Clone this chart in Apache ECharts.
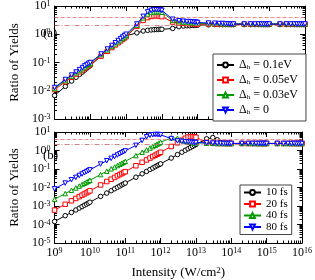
<!DOCTYPE html>
<html><head><meta charset="utf-8">
<script src="https://cdn.jsdelivr.net/npm/echarts@6/dist/echarts.min.js"></script>
<style>html,body{margin:0;padding:0;background:#fff}#c{width:315px;height:280px}</style>
</head><body><div id="c"></div><script>
// ---------- data ----------
const intensity = [
1e9,2e9,3e9,4e9,5e9,6e9,7e9,8e9,9e9,
1e10,2e10,3e10,4e10,5e10,6e10,7e10,8e10,9e10,
1e11,2e11,3e11,4e11,5e11,6e11,7e11,8e11,9e11,
1e12,2e12,3e12,4e12,5e12,6e12,7e12,8e12,9e12,
1e13,2e13,3e13,4e13,5e13,6e13,7e13,8e13,9e13,
1e14,2e14,3e14,4e14,5e14,6e14,7e14,8e14,9e14,
1e15,2e15,3e15,4e15,5e15,6e15,7e15,8e15,9e15,
1e16];
const xTicks = [1e9,1e10,1e11,1e12,1e13,1e14,1e15,1e16];
const yTicksA = [1e-3,1e-2,1e-1,1,10];
const yTicksB = [1e-5,1e-4,1e-3,1e-2,1e-1,1,10];
const refLines = [4.1, 2.1];

const deltaLabels = ['0.1eV','0.05eV','0.03eV','0'];
const pulseLabels = ['10 fs','20 fs','40 fs','80 fs'];

const yA_01 = [
0.0068,0.0143,0.022,0.030,0.038,0.046,0.054,0.063,0.071,
0.080,0.168,0.26,0.35,0.45,0.54,0.63,0.72,0.80,
0.88,1.12,1.3,1.38,1.42,1.45,1.47,1.48,1.5,
1.5,1.6,1.85,1.95,2.0,2.0,2.05,2.05,2.1,
2.1,2.15,2.2,2.2,2.2,2.2,2.2,2.2,2.2,
2.2,2.2,2.2,2.2,2.2,2.2,2.2,2.2,2.2,
2.2,2.2,2.2,2.2,2.2,2.2,2.2,2.2,2.2,
2.2];
const yA_005 = [
0.011,0.021,0.030,0.039,0.047,0.055,0.063,0.071,0.078,
0.085,0.17,0.25,0.34,0.42,0.50,0.58,0.66,0.74,
0.82,1.9,3.1,3.9,4.3,4.5,4.5,4.5,4.4,
4.2,2.7,2.5,2.45,2.4,2.4,2.4,2.35,2.35,
2.3,2.3,2.3,2.25,2.25,2.25,2.25,2.25,2.25,
2.25,2.25,2.25,2.25,2.25,2.25,2.25,2.25,2.25,
2.25,2.25,2.25,2.25,2.25,2.25,2.25,2.25,2.25,
2.25];
const yA_003 = [
0.012,0.023,0.033,0.043,0.052,0.061,0.070,0.079,0.087,
0.095,0.19,0.28,0.37,0.46,0.55,0.64,0.73,0.82,
0.91,2.1,3.8,5.2,5.9,6.2,6.3,6.3,6.2,
6.0,3.1,2.8,2.7,2.6,2.6,2.55,2.5,2.5,
2.45,2.4,2.4,2.4,2.35,2.35,2.35,2.35,2.35,
2.35,2.35,2.35,2.35,2.35,2.35,2.35,2.35,2.35,
2.35,2.35,2.35,2.35,2.35,2.35,2.35,2.35,2.35,
2.35];
const yA_0 = [
0.013,0.025,0.036,0.046,0.056,0.066,0.076,0.085,0.094,
0.10,0.20,0.30,0.40,0.50,0.60,0.70,0.80,0.90,
1.0,2.3,4.3,6.2,7.0,7.3,7.4,7.4,7.3,
7.0,3.4,3.0,2.9,2.8,2.8,2.75,2.7,2.7,
2.6,2.5,2.45,2.4,2.4,2.35,2.35,2.3,2.3,
2.3,2.3,2.3,2.3,2.3,2.3,2.3,2.3,2.3,
2.3,2.3,2.3,2.3,2.3,2.3,2.3,2.3,2.3,
2.3];

const yB_10 = [
1.45e-4,3.0e-4,4.5e-4,6.1e-4,7.7e-4,9.3e-4,1.1e-3,1.26e-3,1.42e-3,
1.6e-3,3.3e-3,5.0e-3,6.7e-3,8.5e-3,0.0103,0.012,0.0139,0.0157,
0.0175,0.036,0.055,0.074,0.094,0.113,0.133,0.152,0.172,
0.19,0.39,0.6,0.81,1.03,1.24,1.46,1.67,1.89,
2.1,4.3,5.0,3.8,2.7,2.5,2.45,2.4,2.4,
2.4,2.4,2.4,2.4,2.4,2.4,2.4,2.4,2.4,
2.4,2.4,2.4,2.4,2.4,2.4,2.4,2.4,2.4,
2.4];
const yB_20 = [
6.0e-4,1.24e-3,1.9e-3,2.55e-3,3.2e-3,3.85e-3,4.5e-3,5.2e-3,5.9e-3,
6.6e-3,0.0137,0.021,0.028,0.035,0.043,0.050,0.057,0.065,
0.072,0.15,0.23,0.31,0.39,0.47,0.55,0.63,0.71,
0.8,1.65,2.6,3.6,4.6,5.3,5.6,5.6,5.5,
5.2,2.6,2.45,2.4,2.4,2.4,2.4,2.4,2.4,
2.4,2.4,2.4,2.4,2.4,2.4,2.4,2.4,2.4,
2.4,2.4,2.4,2.4,2.4,2.4,2.4,2.4,2.4,
2.4];
const yB_40 = [
2.3e-3,4.7e-3,7.1e-3,9.5e-3,0.012,0.0145,0.017,0.0195,0.022,
0.0245,0.050,0.076,0.102,0.128,0.154,0.18,0.206,0.232,
0.26,0.53,0.8,1.08,1.36,1.64,1.92,2.2,2.5,
2.8,4.8,4.6,3.6,3.1,2.9,2.8,2.7,2.65,
2.6,2.5,2.45,2.4,2.4,2.4,2.4,2.4,2.4,
2.4,2.4,2.4,2.4,2.4,2.4,2.4,2.4,2.4,
2.4,2.4,2.4,2.4,2.4,2.4,2.4,2.4,2.4,
2.4];
const yB_80 = [
8.5e-3,0.0174,0.0263,0.0353,0.0444,0.0535,0.0626,0.0718,0.081,
0.09,0.185,0.28,0.375,0.47,0.57,0.66,0.76,0.85,
0.95,1.9,3.5,5.5,6.6,7.1,7.3,7.3,7.2,
7.0,4.4,3.3,3.1,3.0,2.9,2.85,2.8,2.75,
2.7,2.6,2.5,2.45,2.45,2.4,2.4,2.4,2.4,
2.4,2.4,2.4,2.4,2.4,2.4,2.4,2.4,2.4,
2.4,2.4,2.4,2.4,2.4,2.4,2.4,2.4,2.4,
2.4];

// ---------- chart ----------
const F = 'Liberation Serif';
const colors = ['#000000','#ff0000','#009a00','#0000ff'];
const symbols = ['circle','rect','triangle','triangle'];
const rotations = [0,0,0,180];

function minorsOf(majors){
  const out = [];
  for (let i = 0; i < majors.length - 1; i++) for (let k = 2; k <= 9; k++) out.push(majors[i] * k);
  return out;
}
const labelRich = {
  b:{fontFamily:F,fontSize:12,color:'#000'},
  e:{fontFamily:F,fontSize:8,color:'#000',verticalAlign:'top'}
};
function powLabel(v){ const e = Math.round(Math.log10(v)); return '{b|10}{e|' + e + '}'; }

function axis(gi, pos, min, max, ticks, len, showLine, labelVals, extra){
  const a = {type:'log', logBase:10, gridIndex:gi, position:pos, min:min, max:max,
    splitLine:{show:false}, minorTick:{show:false}, minorSplitLine:{show:false},
    axisLine:{show:showLine, onZero:false, lineStyle:{color:'#000', width:1}},
    axisTick:{show:true, inside:true, length:len, customValues:ticks, lineStyle:{color:'#000', width:1}},
    axisLabel: labelVals ? {show:true, customValues:labelVals, formatter:powLabel, rich:labelRich, margin:4} : {show:false},
    axisPointer:{show:false}, silent:true};
  return Object.assign(a, extra || {});
}

const grids = [
  {left:33, right:10, top:5, height:114},
  {left:33, right:10, top:132, height:112}
];
const xAxes = [], yAxes = [];
const xMinor = minorsOf(xTicks);
const yRanges = [[1e-3,10,yTicksA],[1e-5,10,yTicksB]];
const yName = {name:'Ratio of Yields', nameLocation:'middle', nameGap:24, nameRotate:90,
  nameTextStyle:{fontFamily:F,fontSize:13,color:'#000'}};
const xName = {name:'{a|Intensity (W/cm}{s|2}{a|)}', nameLocation:'middle', nameGap:23,
  nameTextStyle:{fontFamily:F,fontSize:13,color:'#000',
    rich:{a:{fontFamily:F,fontSize:13,color:'#000'},s:{fontFamily:F,fontSize:9,color:'#000',verticalAlign:'top'}}}};
for (let g = 0; g < 2; g++) {
  const [ymin, ymax, yt] = yRanges[g];
  const yMinor = minorsOf(yt);
  xAxes.push(axis(g,'bottom',1e9,1e16,xTicks,5,true,g===1?xTicks:null, g===1?xName:null));
  xAxes.push(axis(g,'bottom',1e9,1e16,xMinor,2.5,false,null));
  xAxes.push(axis(g,'top',1e9,1e16,xTicks,5,true,null));
  xAxes.push(axis(g,'top',1e9,1e16,xMinor,2.5,false,null));
  yAxes.push(axis(g,'left',ymin,ymax,yt,5,true,yt,yName));
  yAxes.push(axis(g,'left',ymin,ymax,yMinor,2.5,false,null));
  yAxes.push(axis(g,'right',ymin,ymax,yt,5,true,null));
  yAxes.push(axis(g,'right',ymin,ymax,yMinor,2.5,false,null));
}

const panelData = [[yA_01,yA_005,yA_003,yA_0],[yB_10,yB_20,yB_40,yB_80]];
const panelNames = [deltaLabels.map(d => 'Δh = ' + d), pulseLabels];
const series = [];
for (let g = 0; g < 2; g++) {
  for (let s = 0; s < 4; s++) {
    const ys = panelData[g][s];
    const ser = {
      type:'line', name:panelNames[g][s], xAxisIndex:g*4, yAxisIndex:g*4,
      data: intensity.map((x,i) => [x, ys[i]]),
      symbol:symbols[s], symbolRotate:rotations[s], symbolSize:4.5, showSymbol:true,
      lineStyle:{color:colors[s], width:1},
      itemStyle:{color:'#fff', borderColor:colors[s], borderWidth:1},
      emphasis:{disabled:true}, silent:true, animation:false, z:2+s
    };
    if (s === 0) {
      ser.markLine = {silent:true, symbol:'none', label:{show:false}, animation:false,
        data:[
          {yAxis:refLines[0], lineStyle:{color:'#e87070', type:[4,2], width:1, opacity:0.8}},
          {yAxis:refLines[1], lineStyle:{color:'#c06868', type:[5,2,1,2], width:1, opacity:0.8}}
        ]};
    }
    series.push(ser);
  }
}

const legRichA = {
  d:{fontFamily:F,fontSize:12,color:'#000',lineHeight:12},
  h:{fontFamily:F,fontSize:7,color:'#000',verticalAlign:'bottom',lineHeight:12},
  t:{fontFamily:F,fontSize:12,color:'#000',lineHeight:12}
};
const option = {
  animation:false,
  backgroundColor:'#fff',
  grid: grids,
  xAxis: xAxes,
  yAxis: yAxes,
  series: series,
  legend: [
    {data:panelNames[0], orient:'vertical', left:213, top:54, padding:[5,8,5,3], itemGap:3,
     itemWidth:17, itemHeight:6, backgroundColor:'#fff', borderColor:'#444', borderWidth:1,
     selectedMode:false,
     formatter: n => '{d|Δ}{h|h}{t|' + n.slice(2) + '}',
     textStyle:{fontFamily:F,fontSize:12,color:'#000',lineHeight:12,rich:legRichA}},
    {data:panelNames[1], orient:'vertical', left:240, top:185, padding:[2,4,2,3], itemGap:0.5,
     itemWidth:17, itemHeight:6, backgroundColor:'#fff', borderColor:'#444', borderWidth:1,
     selectedMode:false,
     textStyle:{fontFamily:F,fontSize:11,color:'#000',lineHeight:10.5}}
  ],
  graphic: [
    {type:'text', left:43, top:27, style:{text:'(a)', font:'13px "Liberation Serif"', fill:'#000'}},
    {type:'text', left:43, top:149, style:{text:'(b)', font:'13px "Liberation Serif"', fill:'#000'}}
  ]
};
const chart = echarts.init(document.getElementById('c'), null, {renderer:'canvas', width:315, height:280});
chart.setOption(option);
</script></body></html>
